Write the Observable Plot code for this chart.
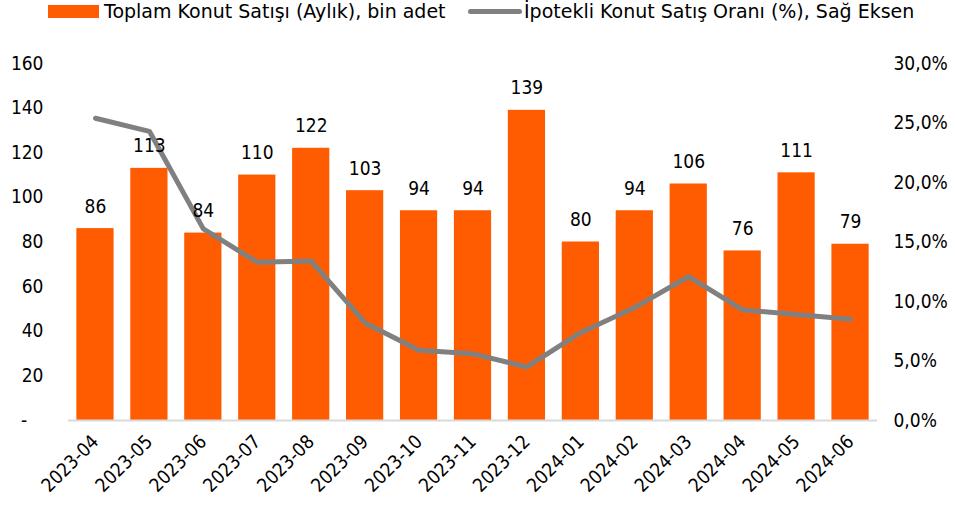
<!DOCTYPE html>
<html>
<head>
<meta charset="utf-8">
<script src="https://cdn.jsdelivr.net/npm/d3@7"></script>
<script src="https://cdn.jsdelivr.net/npm/@observablehq/plot@0.6"></script>
<style>
  body { margin: 0; background: #fff; font-family: "DejaVu Sans Condensed", "DejaVu Sans", sans-serif; }
  #legend { height: 26px; position: relative; font-family: "DejaVu Sans", sans-serif; font-size: 19px; color: #000; }
  #legend .item { position: absolute; top: -2px; display: flex; align-items: center; height: 26px; white-space: nowrap; }
  #legend .sw-bar { width: 51px; height: 13px; background: #ff5b00; margin-right: 5px; }
  #legend .sw-line { width: 54px; height: 5px; background: #808080; border-radius: 3px; margin-right: 2px; }
</style>
</head>
<body>
<div id="legend">
  <div class="item" style="left:48px"><span class="sw-bar"></span><span>Toplam Konut Satışı (Aylık), bin adet</span></div>
  <div class="item" style="left:468px"><span class="sw-line"></span><span>İpotekli Konut Satış Oranı (%), Sağ Eksen</span></div>
</div>
<div id="chart"></div>
<script>
const months = ["2023-04","2023-05","2023-06","2023-07","2023-08","2023-09","2023-10","2023-11","2023-12","2024-01","2024-02","2024-03","2024-04","2024-05","2024-06"];
const sales = [86, 113, 84, 110, 122, 103, 94, 94, 139, 80, 94, 106, 76, 111, 79];
const mortgageShare = [25.4, 24.3, 16.1, 13.3, 13.4, 8.2, 5.9, 5.6, 4.5, 7.4, 9.5, 12.1, 9.3, 8.9, 8.5];
const leftTicks = [0, 20, 40, 60, 80, 100, 120, 140, 160];
const rightTicks = [0, 5, 10, 15, 20, 25, 30];

const leftMax = 160, rightMax = 30;
const toLeft = v => v * leftMax / rightMax;

const bars = months.map((m, i) => ({month: m, value: sales[i]}));
const line = months.map((m, i) => ({month: m, share: mortgageShare[i], scaled: toLeft(mortgageShare[i])}));

const font = "DejaVu Sans Condensed, DejaVu Sans, sans-serif";

const chart = Plot.plot({
  width: 955,
  height: 485,
  marginTop: 37,
  marginBottom: 91,
  marginLeft: 68,
  marginRight: 78,
  style: {fontFamily: font, fontSize: "19px", color: "#000", background: "#fff"},
  x: {domain: months, paddingInner: 0.31, paddingOuter: 0.155, round: false, label: null},
  y: {domain: [0, leftMax], label: null},
  marks: [
    Plot.barY(bars, {x: "month", y: "value", fill: "#ff5b00"}),
    Plot.ruleY([0], {stroke: "#d9d9d9", strokeWidth: 2}),
    Plot.line(line, {x: "month", y: "scaled", stroke: "#808080", strokeWidth: 5, strokeLinejoin: "round", strokeLinecap: "round"}),
    Plot.text(bars, {x: "month", y: "value", text: d => String(d.value), dy: -22, fill: "#000", fontSize: 19}),
    Plot.axisY(leftTicks, {anchor: "left", tickSize: 0, tickPadding: 25, label: null,
      tickFormat: d => d === 0 ? "-\u00a0\u00a0\u00a0" : String(d), fontSize: 19}),
    Plot.axisY(rightTicks.map(toLeft), {anchor: "right", tickSize: 0, tickPadding: 16, label: null,
      tickFormat: d => (d * rightMax / leftMax).toFixed(1).replace(".", ",") + "%", fontSize: 19}),
    Plot.axisX({tickSize: 0, tickRotate: -45, tickPadding: 18, label: null, fontSize: 19})
  ]
});
document.getElementById("chart").appendChild(chart);
</script>
</body>
</html>
